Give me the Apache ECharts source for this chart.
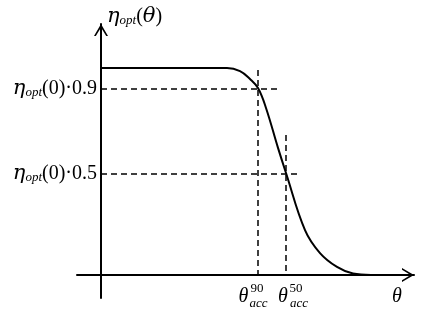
<!DOCTYPE html>
<html>
<head>
<meta charset="utf-8">
<script src="https://cdn.jsdelivr.net/npm/echarts@6/dist/echarts.min.js"></script>
<style>
  html, body { margin: 0; padding: 0; background: #fff; }
  #chart { width: 432px; height: 320px; }
</style>
</head>
<body>
<div id="chart"></div>
<script>
// optical efficiency curve
const curveX = [0, 1.1, 1.26, 1.39, 1.49, 1.57, 1.65, 1.77, 1.85, 2.04, 2.19, 2.36, 2.52, 2.7, 2.84];
const curveY = [1.0, 1.0, 1.0, 0.985, 0.947, 0.903, 0.807, 0.614, 0.493, 0.217, 0.106, 0.039, 0.007, 0, 0];
// marked levels on the y axis and acceptance angles on the x axis
const levels = [0.9, 0.49];
const levelLabels = ['0.9', '0.5'];
const accX = [1.57, 1.85];
const accLabels = ['90', '50'];
// how far the dashed guides run
const levelEnd = [1.76, 1.97];
const accTop = [0.99, 0.676];

const chart = echarts.init(document.getElementById('chart'));
const chevron = 'path://M0,12 L7,0 L14,12 L12.2,12 L7,3.4 L1.8,12 Z';
const serif = 'Liberation Serif';

// spacer fragments to nudge label parts sideways
const spacers = {};
for (let w = 1; w <= 40; w++) spacers['w' + w] = { width: w, fontSize: 2 };
function shifted(txt, style, shift) {
  const w = Math.round(Math.abs(shift) * 2);
  const t = '{' + style + '|' + txt + '}';
  if (!w) return t;
  const sp = '{w' + w + '| }';
  return shift > 0 ? sp + t : t + sp;
}
const thetaShift = [-14.5, -3];
const supShift = [-1, 10];
const subShift = [0.5, 13];

const guides = [];
levels.forEach((v, i) => guides.push([{ coord: [0, v] }, { coord: [levelEnd[i], v] }]));
accX.forEach((v, i) => guides.push([{ coord: [v, accTop[i]] }, { coord: [v, 0] }]));

function labelAxis(style, margin, fmt) {
  return {
    type: 'value', min: -0.24, max: 3.13, position: 'bottom',
    axisLine: { show: false, onZero: false },
    axisTick: { show: false },
    splitLine: { show: false },
    axisLabel: {
      customValues: accX, margin: margin, verticalAlign: 'middle', align: 'center',
      formatter: fmt,
      rich: Object.assign({}, spacers, style)
    }
  };
}

const richEta = {
  e: { fontFamily: 'DejaVu Serif', fontStyle: 'italic', fontSize: 21, color: '#000' },
  s: { fontFamily: serif, fontStyle: 'italic', fontSize: 13, color: '#000', verticalAlign: 'bottom' },
  r: { fontFamily: serif, fontSize: 20, color: '#000' }
};

const option = {
  animation: false,
  grid: { left: 77, right: 18, top: 24, bottom: 22, containLabel: false, outerBoundsMode: 'none' },
  xAxis: [
    {
      type: 'value', min: -0.24, max: 3.13,
      axisLine: {
        onZero: true,
        lineStyle: { color: '#000', width: 2 },
        symbol: ['none', chevron], symbolSize: [14, 12], symbolOffset: [0, -6]
      },
      axisTick: { show: false },
      axisLabel: { show: false },
      splitLine: { show: false },
      name: 'θ', nameLocation: 'end', nameGap: -17,
      nameTextStyle: { fontFamily: serif, fontStyle: 'italic', fontSize: 20, color: '#000',
        align: 'center', verticalAlign: 'top', padding: [12, 0, 0, 0] }
    },
    labelAxis({ t: { fontFamily: serif, fontStyle: 'italic', fontSize: 20, color: '#000' } }, -1.5,
      (v) => shifted('θ', 't', thetaShift[accX.indexOf(v)])),
    labelAxis({ p: { fontFamily: serif, fontSize: 13, color: '#000' } }, -9,
      (v) => shifted(accLabels[accX.indexOf(v)], 'p', supShift[accX.indexOf(v)])),
    labelAxis({ b: { fontFamily: serif, fontStyle: 'italic', fontSize: 13, color: '#000' } }, 5.5,
      (v) => shifted('acc', 'b', subShift[accX.indexOf(v)]))
  ],
  yAxis: {
    type: 'value', min: -0.111, max: 1.2126,
    axisLine: {
      onZero: true,
      lineStyle: { color: '#000', width: 2 },
      symbol: ['none', chevron], symbolSize: [14, 12], symbolOffset: [0, -6]
    },
    axisTick: { show: false },
    splitLine: { show: false },
    axisLabel: {
      customValues: levels, margin: -20,
      formatter: (v) => '{e|η}{s|opt}{r|(0)·' + levelLabels[levels.indexOf(v)] + '}',
      rich: richEta
    },
    name: '{e|η}{s|opt}{r|(}{e|θ}{r|)}', nameLocation: 'end', nameGap: 7,
    nameTextStyle: {
      align: 'left', verticalAlign: 'middle', padding: [0, 0, 0, 6],
      rich: richEta
    }
  },
  series: [{
    type: 'line',
    data: curveX.map((x, i) => [x, curveY[i]]),
    smooth: 0.4,
    symbol: 'none',
    lineStyle: { color: '#000', width: 2 },
    markLine: {
      silent: true, symbol: ['none', 'none'],
      label: { show: false },
      lineStyle: { color: '#000', width: 1.5, type: [6, 4] },
      data: guides
    }
  }]
};
chart.setOption(option);
window.onresize = function () { chart.resize(); };
</script>
</body>
</html>
